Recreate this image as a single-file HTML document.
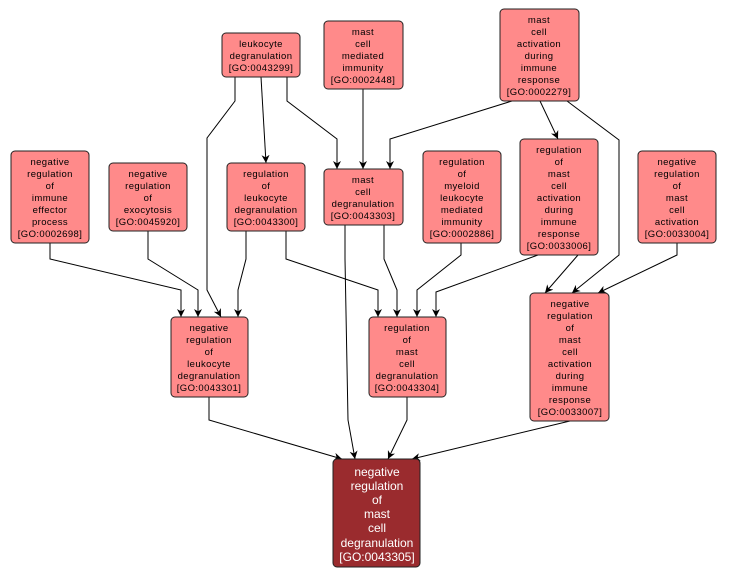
<!DOCTYPE html>
<html><head><meta charset="utf-8"><style>
html,body{margin:0;padding:0;background:#fff;}
svg{display:block;}
text{font-family:"Liberation Sans",sans-serif;font-size:9.5px;fill:#000;text-anchor:middle;letter-spacing:0.4px;}
.n{fill:#ff8a8a;stroke:#222;stroke-width:1;}
.e{fill:none;stroke:#000;stroke-width:1;}
</style></head><body>
<svg width="730" height="578" viewBox="0 0 730 578" xmlns="http://www.w3.org/2000/svg">
<defs><marker id="a" viewBox="0 0 10 10" refX="10" refY="5" markerWidth="8" markerHeight="8" orient="auto" markerUnits="userSpaceOnUse"><path d="M0,0 L10,5 L0,10 L3,5 z" fill="#000"/></marker></defs>
<g class="e" marker-end="url(#a)">
<polyline points="235,77 235,101 207,138 207,290 221,317"/>
<polyline points="261,77 266,163"/>
<polyline points="287,77 287,101 337,139 337,169"/>
<polyline points="363,89 363,169"/>
<polyline points="512,101 390,139 390,169"/>
<polyline points="540,101 558,139"/>
<polyline points="567,101 619,140 619,255 572,293"/>
<polyline points="50,243 50,259 181,290 181,317"/>
<polyline points="148,231 148,259 198,290 198,317"/>
<polyline points="246,231 246,259 238,290 238,317"/>
<polyline points="286,231 286,259 378,290 378,317"/>
<polyline points="384,225 384,259 397,290 397,317"/>
<polyline points="461,243 461,255 417,290 417,317"/>
<polyline points="538,255 436,292 436,317"/>
<polyline points="578,255 545,293"/>
<polyline points="677,243 677,255 598,293"/>
<polyline points="345,225 345,259 348,420 355,459"/>
<polyline points="209,397 209,420 342,459"/>
<polyline points="407,397 407,420 388,459"/>
<polyline points="570,421 412,459"/>
</g>
<g>
<rect class="n" x="222" y="33" width="78" height="44" rx="4"/>
<text x="261" y="47">leukocyte</text><text x="261" y="59">degranulation</text><text x="261" y="71">[GO:0043299]</text>
<rect class="n" x="324" y="21" width="79" height="68" rx="4"/>
<text x="363" y="35">mast</text><text x="363" y="47">cell</text><text x="363" y="59">mediated</text><text x="363" y="71">immunity</text><text x="363" y="83">[GO:0002448]</text>
<rect class="n" x="500" y="9" width="79" height="92" rx="4"/>
<text x="539" y="23">mast</text><text x="539" y="35">cell</text><text x="539" y="47">activation</text><text x="539" y="59">during</text><text x="539" y="71">immune</text><text x="539" y="83">response</text><text x="539" y="95">[GO:0002279]</text>
<rect class="n" x="11" y="151" width="78" height="92" rx="4"/>
<text x="50" y="165">negative</text><text x="50" y="177">regulation</text><text x="50" y="189">of</text><text x="50" y="201">immune</text><text x="50" y="213">effector</text><text x="50" y="225">process</text><text x="50" y="237">[GO:0002698]</text>
<rect class="n" x="109" y="163" width="78" height="68" rx="4"/>
<text x="148" y="177">negative</text><text x="148" y="189">regulation</text><text x="148" y="201">of</text><text x="148" y="213">exocytosis</text><text x="148" y="225">[GO:0045920]</text>
<rect class="n" x="227" y="163" width="78" height="68" rx="4"/>
<text x="266" y="177">regulation</text><text x="266" y="189">of</text><text x="266" y="201">leukocyte</text><text x="266" y="213">degranulation</text><text x="266" y="225">[GO:0043300]</text>
<rect class="n" x="324" y="169" width="79" height="56" rx="4"/>
<text x="363" y="183">mast</text><text x="363" y="195">cell</text><text x="363" y="207">degranulation</text><text x="363" y="219">[GO:0043303]</text>
<rect class="n" x="423" y="151" width="78" height="92" rx="4"/>
<text x="462" y="165">regulation</text><text x="462" y="177">of</text><text x="462" y="189">myeloid</text><text x="462" y="201">leukocyte</text><text x="462" y="213">mediated</text><text x="462" y="225">immunity</text><text x="462" y="237">[GO:0002886]</text>
<rect class="n" x="520" y="139" width="78" height="116" rx="4"/>
<text x="559" y="153">regulation</text><text x="559" y="165">of</text><text x="559" y="177">mast</text><text x="559" y="189">cell</text><text x="559" y="201">activation</text><text x="559" y="213">during</text><text x="559" y="225">immune</text><text x="559" y="237">response</text><text x="559" y="249">[GO:0033006]</text>
<rect class="n" x="638" y="151" width="78" height="92" rx="4"/>
<text x="677" y="165">negative</text><text x="677" y="177">regulation</text><text x="677" y="189">of</text><text x="677" y="201">mast</text><text x="677" y="213">cell</text><text x="677" y="225">activation</text><text x="677" y="237">[GO:0033004]</text>
<rect class="n" x="171" y="317" width="77" height="80" rx="4"/>
<text x="209" y="331">negative</text><text x="209" y="343">regulation</text><text x="209" y="355">of</text><text x="209" y="367">leukocyte</text><text x="209" y="379">degranulation</text><text x="209" y="391">[GO:0043301]</text>
<rect class="n" x="369" y="317" width="77" height="80" rx="4"/>
<text x="407" y="331">regulation</text><text x="407" y="343">of</text><text x="407" y="355">mast</text><text x="407" y="367">cell</text><text x="407" y="379">degranulation</text><text x="407" y="391">[GO:0043304]</text>
<rect class="n" x="530" y="293" width="79" height="128" rx="4"/>
<text x="570" y="307">negative</text><text x="570" y="319">regulation</text><text x="570" y="331">of</text><text x="570" y="343">mast</text><text x="570" y="355">cell</text><text x="570" y="367">activation</text><text x="570" y="379">during</text><text x="570" y="391">immune</text><text x="570" y="403">response</text><text x="570" y="415">[GO:0033007]</text>
<rect x="333" y="459" width="87" height="108" rx="4" fill="#9a2b2e" stroke="#222"/>
<g style="font-size:12px"><text x="377" y="476" style="fill:#fff;font-size:12px;letter-spacing:0">negative</text><text x="377" y="490" style="fill:#fff;font-size:12px;letter-spacing:0">regulation</text><text x="377" y="504" style="fill:#fff;font-size:12px;letter-spacing:0">of</text><text x="377" y="518" style="fill:#fff;font-size:12px;letter-spacing:0">mast</text><text x="377" y="532" style="fill:#fff;font-size:12px;letter-spacing:0">cell</text><text x="377" y="547" style="fill:#fff;font-size:12px;letter-spacing:0">degranulation</text><text x="377" y="561" style="fill:#fff;font-size:12px;letter-spacing:0">[GO:0043305]</text></g>
</g>
</svg>
</body></html>
